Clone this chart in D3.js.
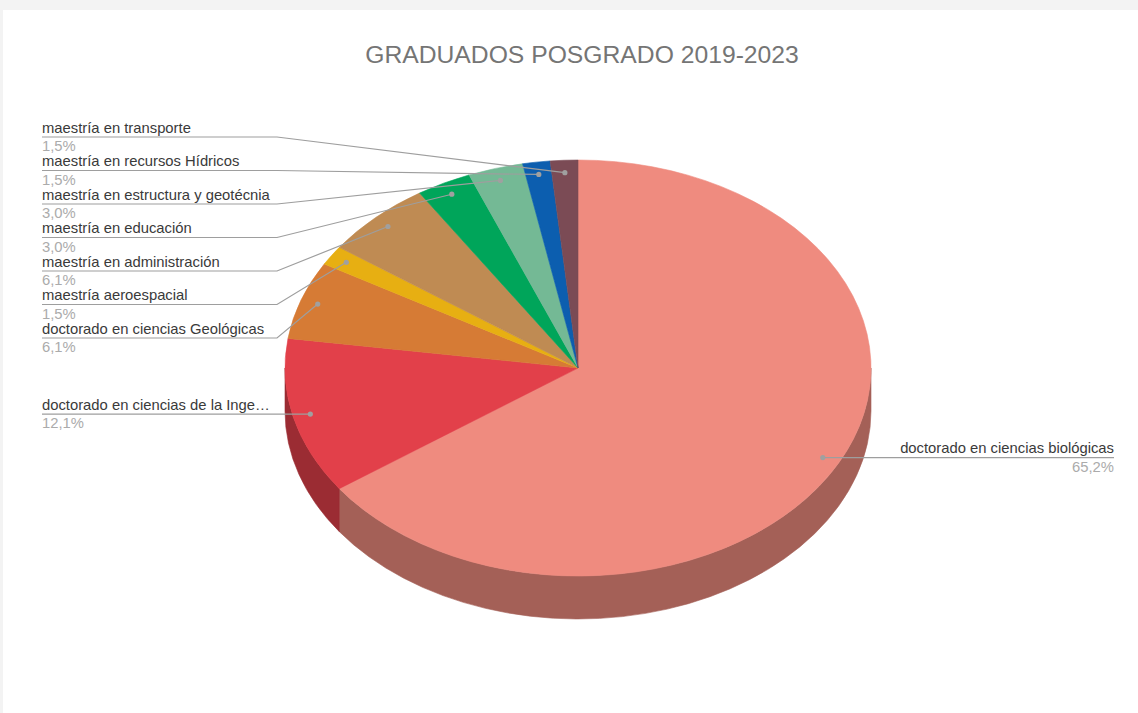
<!DOCTYPE html>
<html>
<head>
<meta charset="utf-8">
<script src="https://cdn.jsdelivr.net/npm/d3@7"></script>
<style>
  html, body { margin: 0; padding: 0; background: #f3f3f3; }
  text { font-family: "Liberation Sans", Arial, sans-serif; }
</style>
</head>
<body>
<div id="chart"></div>
<script>
var title = 'GRADUADOS POSGRADO 2019-2023';

// slices in drawing order, clockwise from 12 o'clock
var categories = [
  'doctorado en ciencias biológicas',
  'doctorado en ciencias de la Ingeniería',
  'doctorado en ciencias Geológicas',
  'maestría aeroespacial',
  'maestría en administración',
  'maestría en educación',
  'maestría en estructura y geotécnia',
  'maestría en recursos Hídricos',
  'maestría en transporte'
];
var graduados = [43, 8, 4, 1, 4, 2, 2, 1, 1];
var colors = ['#ef8b7f', '#e2404a', '#d67b35', '#e7af12', '#bf8b53',
              '#00a55a', '#74b995', '#0c5eaf', '#7b4b55'];

var W = 1138, H = 713;
var cx = 578, cy = 368, rx = 293, ry = 208, depth = 43;

var svg = d3.select('#chart').append('svg')
  .attr('width', W)
  .attr('height', H);

svg.append('rect').attr('width', W).attr('height', H).attr('fill', '#f3f3f3');
svg.append('rect').attr('x', 3).attr('y', 10)
  .attr('width', W - 3).attr('height', H - 10).attr('fill', '#fff');

svg.append('text')
  .attr('x', 582).attr('y', 63)
  .attr('text-anchor', 'middle')
  .attr('font-size', 24.7)
  .attr('fill', '#757575')
  .text(title);

var total = d3.sum(graduados);
var rows = categories.map(function(c, i) {
  return { name: c, value: graduados[i], color: colors[i],
           pct: (graduados[i] / total * 100).toFixed(1).replace('.', ',') + '%' };
});

var arcs = d3.pie().sort(null).value(function(d) { return d.value; })(rows);

// angle measured clockwise from top, like d3.arc
function pt(a, r, dy) {
  return [cx + r * rx * Math.sin(a), cy - r * ry * Math.cos(a) + (dy || 0)];
}

// side wall (only the front half is visible)
var sideLayer = svg.append('g').attr('class', 'sides');
arcs.forEach(function(d) {
  var a0 = Math.max(d.startAngle, Math.PI / 2);
  var a1 = Math.min(d.endAngle, 3 * Math.PI / 2);
  if (a1 <= a0) return;
  var p0 = pt(a0, 1), p1 = pt(a1, 1), p2 = pt(a1, 1, depth), p3 = pt(a0, 1, depth);
  var path = 'M' + p0 + 'A' + rx + ' ' + ry + ' 0 0 1 ' + p1 +
    'L' + p2 + 'A' + rx + ' ' + ry + ' 0 0 0 ' + p3 + 'Z';
  var c = d3.rgb(d.data.color).darker(1.05);
  sideLayer.append('path').attr('d', path)
    .attr('fill', c).attr('stroke', c).attr('stroke-width', 0.6);
});

// top face: circle arcs squashed into an ellipse
var arc = d3.arc().innerRadius(0).outerRadius(rx);
svg.append('g')
  .attr('transform', 'translate(' + cx + ',' + cy + ') scale(1,' + (ry / rx) + ')')
  .selectAll('path').data(arcs)
  .enter().append('path')
  .attr('d', arc)
  .attr('fill', function(d) { return d.data.color; })
  .attr('stroke', function(d) { return d.data.color; })
  .attr('stroke-width', 0.6)
  .attr('vector-effect', 'non-scaling-stroke');

// labels
var fontSize = 14.8, leftX = 42, elbowX = 277, rightX = 1114;
var leftTop = 137, rowStep = 33.5, maxW = 232;
var labelLayer = svg.append('g').attr('class', 'labels');

var left = arcs.filter(function(d) { return (d.startAngle + d.endAngle) / 2 > Math.PI; })
  .reverse();
var right = arcs.filter(function(d) { return (d.startAngle + d.endAngle) / 2 <= Math.PI; });

function fitText(sel, w) {
  var s = sel.text();
  if (sel.node().getComputedTextLength() <= w) return;
  while (s.length > 1) {
    s = s.slice(0, -1);
    sel.text(s + '…');
    if (sel.node().getComputedTextLength() <= w) return;
  }
}

function drawLabel(d, y, side) {
  var mid = (d.startAngle + d.endAngle) / 2;
  var dot = pt(mid, 0.94);
  var pts = side === 'left'
    ? [dot, [elbowX, y], [leftX, y]]
    : [dot, [rightX, y]];
  labelLayer.append('path')
    .attr('d', d3.line()(pts))
    .attr('fill', 'none').attr('stroke', '#9e9e9e').attr('stroke-width', 1.2);
  labelLayer.append('circle')
    .attr('cx', dot[0]).attr('cy', dot[1]).attr('r', 2.6)
    .attr('fill', '#a0a0a0');
  var tx = side === 'left' ? leftX : rightX;
  var anchor = side === 'left' ? 'start' : 'end';
  var t = labelLayer.append('text')
    .attr('x', tx).attr('y', y - 4.5)
    .attr('text-anchor', anchor)
    .attr('font-size', fontSize).attr('fill', '#3a3a3a')
    .text(d.data.name);
  if (side === 'left') fitText(t, maxW);
  labelLayer.append('text')
    .attr('x', tx).attr('y', y + 14)
    .attr('text-anchor', anchor)
    .attr('font-size', fontSize).attr('fill', '#ababab')
    .text(d.data.pct);
}

left.forEach(function(d, i) {
  var slot = leftTop + i * rowStep;
  var dotY = pt((d.startAngle + d.endAngle) / 2, 0.94)[1];
  var y = (dotY - slot > rowStep * 1.15) ? dotY : slot;
  drawLabel(d, y, 'left');
});
right.forEach(function(d) {
  var dotY = pt((d.startAngle + d.endAngle) / 2, 0.94)[1];
  drawLabel(d, dotY, 'right');
});
</script>
</body>
</html>
